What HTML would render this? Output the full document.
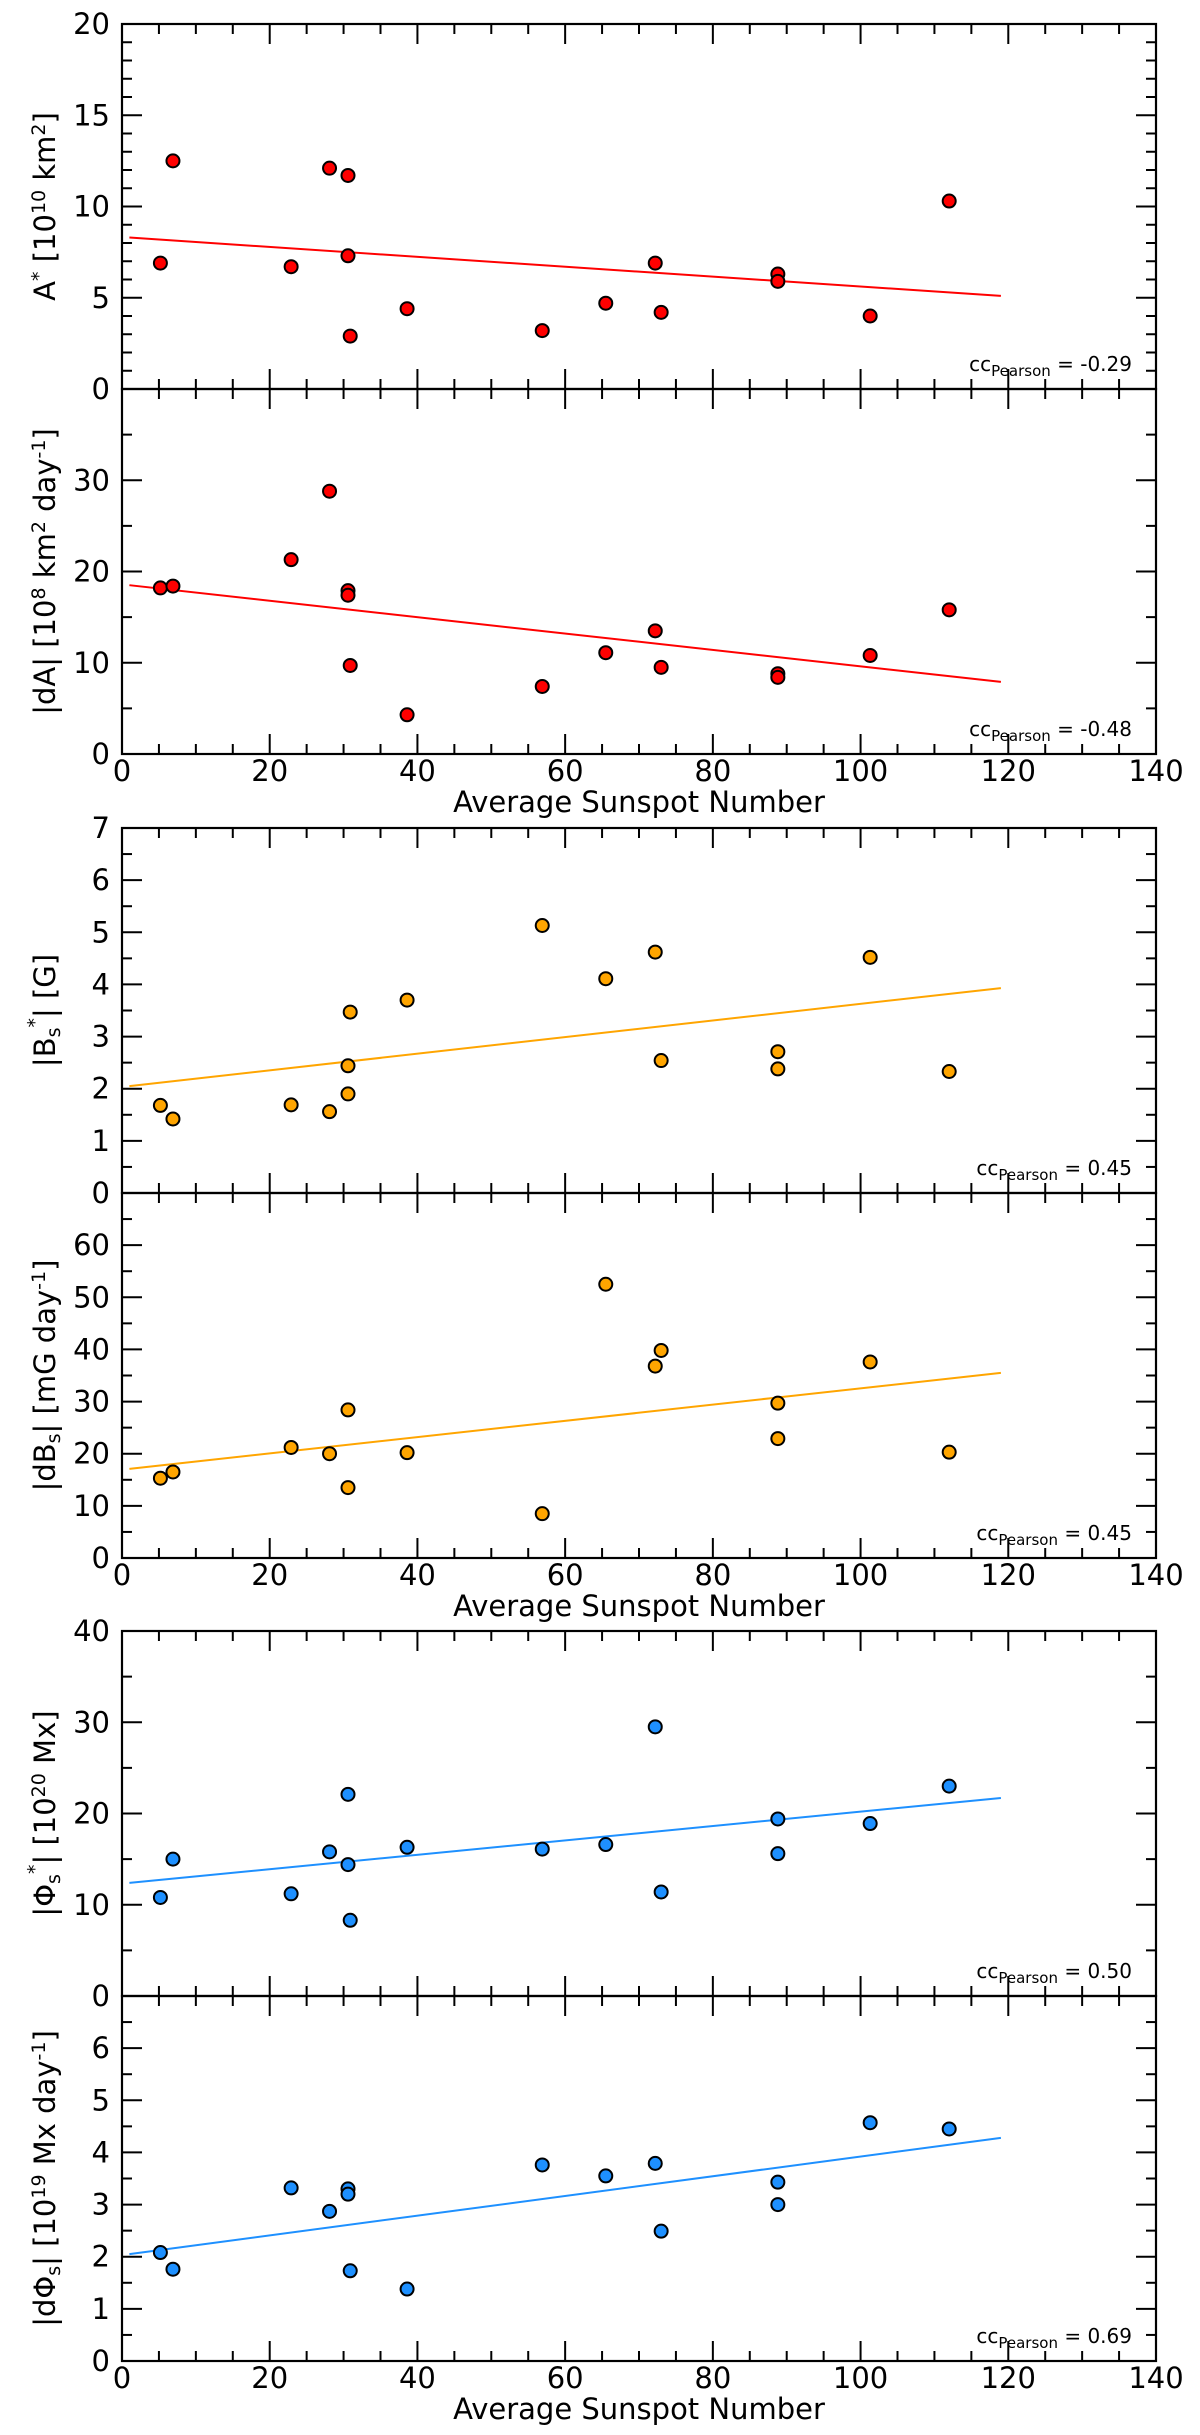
<!DOCTYPE html>
<html><head><meta charset="utf-8"><style>
html,body{margin:0;padding:0;background:#fff;}
svg{display:block;font-family:"DejaVu Sans","Liberation Sans",sans-serif;}
</style></head><body>
<svg id="fig" width="1200" height="2435" viewBox="0 0 1200 2435" xmlns="http://www.w3.org/2000/svg"></svg>
<script>
// shared x data (average sunspot number)
const ssn = [5.2, 6.9, 22.9, 28.1, 30.6, 30.6, 30.9, 38.6, 56.9, 65.5, 72.2, 73.0, 88.8, 88.8, 101.3, 112.0];
const xTicks = [0, 20, 40, 60, 80, 100, 120, 140];
// panel series
const areaVals = [6.9, 12.5, 6.7, 12.1, 11.7, 7.3, 2.9, 4.4, 3.2, 4.7, 6.9, 4.2, 6.3, 5.9, 4.0, 10.3];
const areaFit = [8.3, 5.1];
const dAreaVals = [18.2, 18.4, 21.3, 28.8, 17.9, 17.4, 9.7, 4.3, 7.4, 11.1, 13.5, 9.5, 8.8, 8.4, 10.8, 15.8];
const dAreaFit = [18.5, 7.9];
const bVals = [1.68, 1.42, 1.69, 1.56, 2.44, 1.9, 3.47, 3.7, 5.13, 4.11, 4.62, 2.54, 2.71, 2.38, 4.52, 2.33];
const bFit = [2.05, 3.93];
const dBssn = [5.2, 6.9, 22.9, 28.1, 30.6, 30.6, 38.6, 56.9, 65.5, 72.2, 73.0, 88.8, 88.8, 101.3, 112.0];
const dBVals = [15.3, 16.5, 21.2, 20.0, 28.4, 13.5, 20.2, 8.5, 52.5, 36.8, 39.8, 29.7, 22.9, 37.6, 20.3];
const dBFit = [17.1, 35.5];
const phiVals = [10.8, 15.0, 11.2, 15.8, 22.1, 14.4, 8.3, 16.3, 16.1, 16.6, 29.5, 11.4, 19.4, 15.6, 18.9, 23.0];
const phiFit = [12.4, 21.7];
const dPhiVals = [2.08, 1.76, 3.32, 2.87, 3.3, 3.2, 1.73, 1.38, 3.76, 3.55, 3.79, 2.49, 3.43, 3.0, 4.57, 4.45];
const dPhiFit = [2.05, 4.28];
const fitRange = [1, 119];
const ccLabels = ["-0.29", "-0.48", "0.45", "0.45", "0.50", "0.69"];

const NS = "http://www.w3.org/2000/svg";
const svg = document.getElementById('fig');
const X0 = 122, X1 = 1156, XMAX = 140;
function xs(v){ return X0 + (X1 - X0) * v / XMAX; }
function mk(tag, attrs, parent){ const e = document.createElementNS(NS, tag); for (const k in attrs) e.setAttribute(k, attrs[k]); (parent||svg).appendChild(e); return e; }

const panels = [
  {top:24, ymax:20, major:5, minor:1, labels:[0,5,10,15,20], xs:ssn, ys:areaVals, fit:areaFit, color:"#ff0000", name:"area", xlab:false,
   title:[["A"],["*","sup"],[" [10"],["10","sup"],[" km"],["2","sup"],["]"]]},
  {top:389, ymax:40, major:10, minor:5, labels:[0,10,20,30], xs:ssn, ys:dAreaVals, fit:dAreaFit, color:"#ff0000", name:"darea", xlab:true,
   title:[["|dA| [10"],["8","sup"],[" km"],["2","sup"],[" day"],["-1","sup"],["]"]]},
  {top:828, ymax:7, major:1, minor:0.5, labels:[0,1,2,3,4,5,6,7], xs:ssn, ys:bVals, fit:bFit, color:"#ffa500", name:"bfield", xlab:false,
   title:[["|B"],["s","sub"],["*","sup2"],["| [G]"]]},
  {top:1193, ymax:70, major:10, minor:5, labels:[0,10,20,30,40,50,60], xs:dBssn, ys:dBVals, fit:dBFit, color:"#ffa500", name:"dbfield", xlab:true,
   title:[["|dB"],["s","sub"],["| [mG day"],["-1","sup"],["]"]]},
  {top:1631, ymax:40, major:10, minor:5, labels:[0,10,20,30,40], xs:ssn, ys:phiVals, fit:phiFit, color:"#1e90ff", name:"flux", xlab:false,
   title:[["|\u03A6"],["s","sub"],["*","sup2"],["| [10"],["20","sup"],[" Mx]"]]},
  {top:1996, ymax:7, major:1, minor:0.5, labels:[0,1,2,3,4,5,6], xs:ssn, ys:dPhiVals, fit:dPhiFit, color:"#1e90ff", name:"dflux", xlab:true,
   title:[["|d\u03A6"],["s","sub"],["| [10"],["19","sup"],[" Mx day"],["-1","sup"],["]"]]}
];
const H = 365;

panels.forEach((p, i) => {
  const g = mk('g', {});
  
  
  const bot = p.top + H;
  function ys(v){ return bot - H * v / p.ymax; }
  const fr = mk('rect', {x:X0, y:p.top, width:X1-X0, height:H, fill:'none', stroke:'#000', 'stroke-width':2.2}, g);
  
  
  for (let v = 0; v <= XMAX + 0.01; v += 5) {
    const maj = (v % 20 === 0);
    const L = maj ? 20 : 10;
    const x = xs(v);
    mk('line', {x1:x, y1:bot, x2:x, y2:bot-L, stroke:'#000', 'stroke-width':2}, g);
    mk('line', {x1:x, y1:p.top, x2:x, y2:p.top+L, stroke:'#000', 'stroke-width':2}, g);
  }
  const n = Math.round(p.ymax / p.minor);
  for (let k = 0; k <= n; k++) {
    const v = k * p.minor;
    const maj = Math.abs(v / p.major - Math.round(v / p.major)) < 1e-6;
    const L = maj ? 20 : 10;
    const y = ys(v);
    mk('line', {x1:X0, y1:y, x2:X0+L, y2:y, stroke:'#000', 'stroke-width':2}, g);
    mk('line', {x1:X1, y1:y, x2:X1-L, y2:y, stroke:'#000', 'stroke-width':2}, g);
  }
  p.labels.forEach(v => {
    const t = mk('text', {x:110, y:ys(v)+10, 'text-anchor':'end', 'font-size':29, fill:'#000'}, g);
    t.textContent = v;
    
    
  });
  if (p.xlab) {
    xTicks.forEach(v => {
      const t = mk('text', {x:xs(v), y:bot+27, 'text-anchor':'middle', 'font-size':29, fill:'#000'}, g);
      t.textContent = v;
      
      
    });
    const xt = mk('text', {x:(X0+X1)/2, y:bot+58, 'text-anchor':'middle', 'font-size':29, fill:'#000'}, g);
    xt.textContent = 'Average Sunspot Number';
    
    
  }
  const yt = mk('text', {transform:'translate(55,'+(p.top+H/2)+') rotate(-90)', 'text-anchor':'middle', 'font-size':29, fill:'#000'}, g);
  
  
  p.title.forEach(seg => {
    const ts = mk('tspan', {}, yt);
    ts.textContent = seg[0];
    if (seg[1] === 'sup') { ts.setAttribute('baseline-shift', '55%'); ts.setAttribute('font-size', '19'); }
    if (seg[1] === 'sup2') { ts.setAttribute('baseline-shift', '75%'); ts.setAttribute('font-size', '19'); }
    if (seg[1] === 'sub') { ts.setAttribute('baseline-shift', '-25%'); ts.setAttribute('font-size', '19'); }
  });
  const fl = mk('line', {x1:xs(fitRange[0]), y1:ys(p.fit[0]), x2:xs(fitRange[1]), y2:ys(p.fit[1]), stroke:p.color, 'stroke-width':2}, g);
  
  
  p.xs.forEach((xv, j) => {
    const c = mk('circle', {cx:xs(xv), cy:ys(p.ys[j]), r:6.5, fill:p.color, stroke:'#000', 'stroke-width':2}, g);
    
    
  });
  const cc = mk('text', {x:1132, y:bot-18, 'text-anchor':'end', 'font-size':20, fill:'#000'}, g);
  
  
  const a = mk('tspan', {}, cc); a.textContent = 'cc';
  const b = mk('tspan', {'baseline-shift':'-30%', 'font-size':15}, cc); b.textContent = 'Pearson';
  const c2 = mk('tspan', {}, cc); c2.textContent = ' = ' + ccLabels[i];
});
</script>
</body></html>
